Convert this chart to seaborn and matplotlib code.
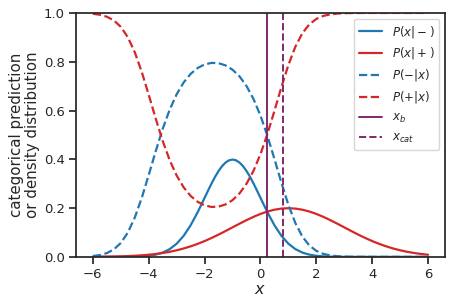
import numpy as np
import pandas as pd
import matplotlib
matplotlib.use("Agg")
import matplotlib.pyplot as plt
import seaborn as sns

# x grid
x_vals = [-6.0, -5.75, -5.5, -5.25, -5.0, -4.75, -4.5, -4.25, -4.0, -3.75, -3.5, -3.25,
          -3.0, -2.75, -2.5, -2.25, -2.0, -1.75, -1.5, -1.25, -1.0, -0.75, -0.5, -0.25,
          0.0, 0.25, 0.5, 0.75, 1.0, 1.25, 1.5, 1.75, 2.0, 2.25, 2.5, 2.75, 3.0, 3.25,
          3.5, 3.75, 4.0, 4.25, 4.5, 4.75, 5.0, 5.25, 5.5, 5.75, 6.0]

# x grid for P(x|-) (finer around its peak)
x_neg = [-6.0, -5.75, -5.5, -5.25, -5.0, -4.75, -4.5, -4.25, -4.0, -3.75, -3.5, -3.25,
         -3.0, -2.75, -2.5, -2.25, -2.0, -1.875, -1.75, -1.625, -1.5, -1.375, -1.25, -1.125,
         -1.0, -0.875, -0.75, -0.625, -0.5, -0.375, -0.25, -0.125,
         0.0, 0.25, 0.5, 0.75, 1.0, 1.25, 1.5, 1.75, 2.0, 2.25, 2.5, 2.75, 3.0, 3.25,
         3.5, 3.75, 4.0, 4.25, 4.5, 4.75, 5.0, 5.25, 5.5, 5.75, 6.0]

# P(x|-)
p_x_neg = [0.0000015, 0.000005, 0.000016, 0.000048, 0.000134, 0.000353, 0.000873, 0.002029,
           0.004432, 0.009093, 0.017528, 0.031739, 0.053991, 0.086277, 0.12952, 0.18265,
           0.24197, 0.27205, 0.30114, 0.32816, 0.35207, 0.37185, 0.38667, 0.39584,
           0.39894, 0.39584, 0.38667, 0.37185, 0.35207, 0.32816, 0.30114, 0.27205,
           0.24197, 0.18265, 0.12952, 0.086277, 0.053991, 0.031739, 0.017528, 0.009093,
           0.004432, 0.002029, 0.000873, 0.000353, 0.000134, 0.000048, 0.000016, 0.000005,
           0.0000015, 0.0, 0.0, 0.0, 0.0, 0.0, 0.0, 0.0, 0.0]

# P(x|+)
p_x_pos = [0.000436, 0.000671, 0.001015, 0.001511, 0.002216, 0.003199, 0.004547, 0.006362,
           0.008764, 0.011886, 0.015870, 0.020861, 0.026995, 0.034394, 0.043138, 0.053269,
           0.064758, 0.077505, 0.091324, 0.10594, 0.12099, 0.13603, 0.15057, 0.16408,
           0.17603, 0.18593, 0.19333, 0.19792, 0.19947, 0.19792, 0.19333, 0.18593,
           0.17603, 0.16408, 0.15057, 0.13603, 0.12099, 0.10594, 0.091324, 0.077505,
           0.064758, 0.053269, 0.043138, 0.034394, 0.026995, 0.020861, 0.015870, 0.011886,
           0.008764]

# P(-|x)
p_neg_x = [0.0034, 0.0075, 0.0155, 0.0306, 0.0570, 0.0993, 0.1610, 0.2418,
           0.3358, 0.4334, 0.5248, 0.6034, 0.6667, 0.7150, 0.7502, 0.7742,
           0.7889, 0.7953, 0.7940, 0.7849, 0.7673, 0.7398, 0.7004, 0.6473,
           0.5789, 0.4956, 0.4012, 0.3036, 0.2130, 0.1382, 0.0831, 0.0466,
           0.0246, 0.0122, 0.0058, 0.0026, 0.0011, 0.00045, 0.00018, 0.00007,
           0.00002, 0.0, 0.0, 0.0, 0.0, 0.0, 0.0, 0.0, 0.0]

# P(+|x)
p_pos_x = [0.9966, 0.9925, 0.9845, 0.9694, 0.9430, 0.9007, 0.8390, 0.7582,
           0.6642, 0.5666, 0.4752, 0.3966, 0.3333, 0.2850, 0.2498, 0.2258,
           0.2111, 0.2047, 0.2060, 0.2151, 0.2327, 0.2602, 0.2996, 0.3527,
           0.4211, 0.5044, 0.5988, 0.6964, 0.7870, 0.8618, 0.9169, 0.9534,
           0.9754, 0.9878, 0.9942, 0.9974, 0.9989, 0.99955, 0.99982, 0.99993,
           0.99998, 1.0, 1.0, 1.0, 1.0, 1.0, 1.0, 1.0, 1.0]

x_b = 0.238
x_cat = 0.80

labels = [r'$P(x|-)$', r'$P(x|+)$', r'$P(-|x)$', r'$P(+|x)$', r'$x_b$', r'$x_{cat}$']

blue = '#1f77b4'
red = '#d62728'
purple = '#7f2a6e'

sns.set_theme(style="ticks")
plt.rcParams['font.family'] = ['DejaVu Sans']

fig = plt.figure(figsize=(4.53, 3.08), dpi=100)
ax = fig.add_axes([0.168, 0.166, 0.814, 0.792])

df = pd.DataFrame({'x': x_vals, 'pxp': p_x_pos, 'pnx': p_neg_x, 'ppx': p_pos_x})
df_neg = pd.DataFrame({'x': x_neg, 'pxn': p_x_neg})

sns.lineplot(data=df_neg, x='x', y='pxn', ax=ax, color=blue, lw=1.6, label=labels[0])
sns.lineplot(data=df, x='x', y='pxp', ax=ax, color=red, lw=1.6, label=labels[1])
sns.lineplot(data=df, x='x', y='pnx', ax=ax, color=blue, lw=1.6, ls='--', label=labels[2])
sns.lineplot(data=df, x='x', y='ppx', ax=ax, color=red, lw=1.6, ls='--', label=labels[3])
ax.axvline(x_b, color=purple, lw=1.4, label=labels[4])
ax.axvline(x_cat, color=purple, lw=1.4, ls='--', label=labels[5])

ax.set_ylim(0, 1.0)
ax.set_xlim(-6.6, 6.6)
ax.set_xticks([-6, -4, -2, 0, 2, 4, 6])
ax.set_yticks([0.0, 0.2, 0.4, 0.6, 0.8, 1.0])
ax.tick_params(labelsize=9.5, length=5, pad=3)
ax.set_xlabel(r'$x$', fontsize=11.5, labelpad=1)
ax.set_ylabel('categorical prediction\nor density distribution', fontsize=10.8,
              labelpad=3, linespacing=1.1)

ax.legend(loc='upper right', fontsize=8.5, frameon=True, handlelength=2.0)

fig.savefig('out.png', dpi=100)
